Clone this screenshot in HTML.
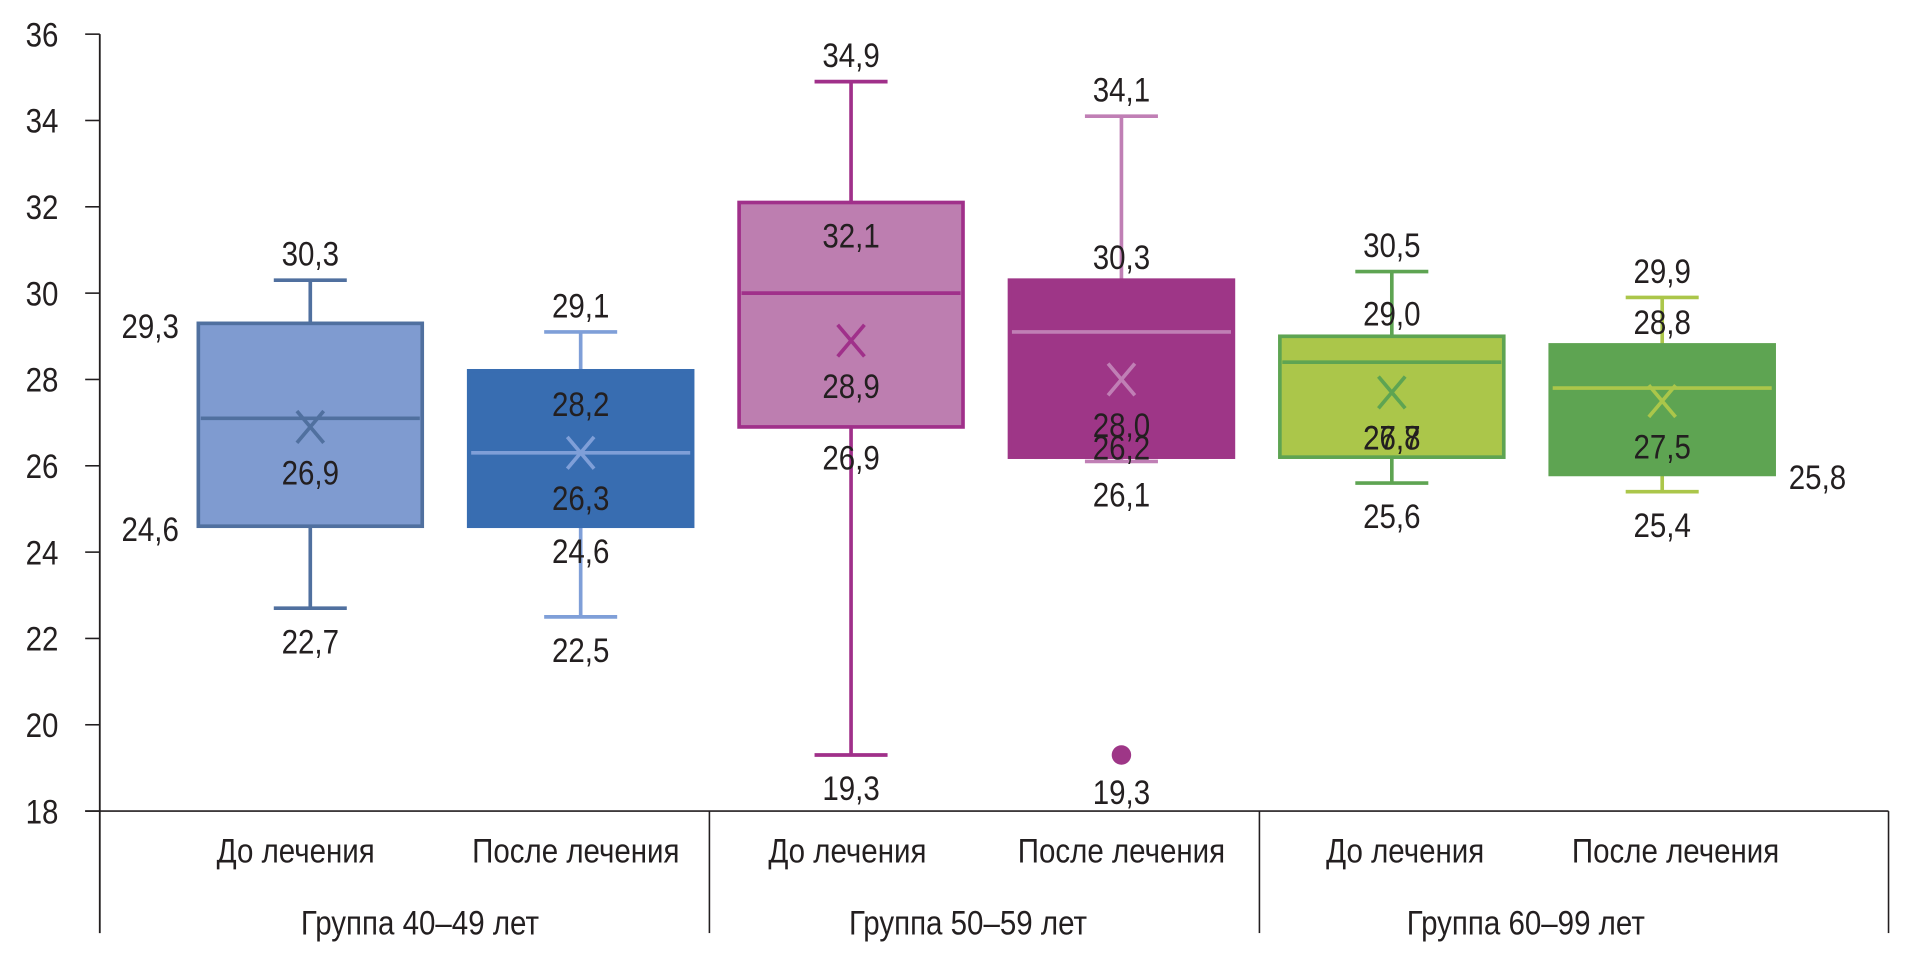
<!DOCTYPE html>
<html><head><meta charset="utf-8">
<style>
html,body{margin:0;padding:0;background:#fff;}
svg{display:block;}
text{font-family:"Liberation Sans Narrow","Liberation Sans",sans-serif;fill:#231f20;}
</style></head>
<body>
<svg id="chart" width="1908" height="966" viewBox="0 0 1568 792" preserveAspectRatio="none" xmlns="http://www.w3.org/2000/svg"></svg>
<script>
const yTicks = [18,20,22,24,26,28,30,32,34,36];
const categories = ["До лечения","После лечения","До лечения","После лечения","До лечения","После лечения"];
const groups = ["Группа 40–49 лет","Группа 50–59 лет","Группа 60–99 лет"];
const mins = [22.7,22.5,19.3,26.1,25.6,25.4];
const q1s = [24.6,24.6,26.9,26.2,26.2,25.8];
const medians = [27.1,26.3,30.0,29.1,28.4,27.8];
const means = [26.9,26.3,28.9,28.0,27.7,27.5];
const q3s = [29.3,28.2,32.1,30.3,29.0,28.8];
const maxs = [30.3,29.1,34.9,34.1,30.5,29.9];
const outliers = [[],[],[],[19.3],[],[]];
const minLabels = ["22,7","22,5","19,3","26,1","25,6","25,4"];
const q1Labels = ["24,6","24,6","26,9","26,2","26,8","25,8"];
const meanLabels = ["26,9","26,3","28,9","28,0","27,7","27,5"];
const q3Labels = ["29,3","28,2","32,1","30,3","29,0","28,8"];
const maxLabels = ["30,3","29,1","34,9","34,1","30,5","29,9"];
const outlierLabels = [[],[],[],["19,3"],[],[]];

const fills = ["#7f9bd0","#386db1","#bd7eb0","#9e3687","#abc64a","#5ea452"];
const strokes = ["#50709f","#386db1","#a0308a","#9e3687","#5ea452","#5ea452"];
const inner = ["#50709f","#7f9fd8","#a0308a","#c07fb5","#5ea452","#abc64a"];
const q3Pos = ["left","in","in","above","above","above"];
const q1Pos = ["left","below","below","up","same","right"];

const svg = document.getElementById('chart');
const NS = "http://www.w3.org/2000/svg";
const X0 = 82, X1 = 1552, YB = 665, YT = 28;
function y(v){ return YB - (v - 18) * (YB - YT) / 18; }
function xc(i){ return 255 + i * ((1366 - 255) / 5); }
const BW = 184, CAP = 30;

function el(tag, attrs, parent){
  const e = document.createElementNS(NS, tag);
  for (const k in attrs) e.setAttribute(k, attrs[k]);
  (parent || svg).appendChild(e);
  return e;
}
function txt(s, x, yy, anchor, parent){
  const t = el('text', {x:0, y:0, 'font-size':25, 'text-anchor':anchor||'middle',
    transform:`translate(${x},${yy}) scale(0.97,1.12)`}, parent);
  t.textContent = s;
  return t;
}

const axis = el('g', {});


el('line', {x1:X0, y1:YT, x2:X0, y2:765, stroke:'#231f20', 'stroke-width':1.5}, axis);
yTicks.forEach(v => {
  el('line', {x1:70, y1:y(v), x2:X0, y2:y(v), stroke:'#231f20', 'stroke-width':1.3}, axis);
  const t = txt(String(v), 48, y(v) + 10, 'end', axis);
  
  
});
const xa = el('line', {x1:70, y1:YB, x2:X1, y2:YB, stroke:'#231f20', 'stroke-width':1.3});


[583, 1035, X1].forEach(xx => {
  const s = el('line', {x1:xx, y1:YB, x2:xx, y2:765, stroke:'#231f20', 'stroke-width':1.3});
  
  
});
const catShift = [-12, -4, -3, 0, 11, 11];
categories.forEach((c, i) => {
  const t = txt(c, xc(i) + catShift[i], 707);
  
  
});
const groupShift = [-21, -15, -1];
groups.forEach((g, i) => {
  const t = txt(g, (xc(2*i) + xc(2*i+1)) / 2 + groupShift[i], 766);
  
  
});

categories.forEach((c, i) => {
  const g = el('g', {});
  
  
  const cx = xc(i), L = cx - BW/2;
  el('line', {x1:cx, y1:y(maxs[i]), x2:cx, y2:y(q3s[i]), stroke:inner[i], 'stroke-width':3}, g);
  el('line', {x1:cx, y1:y(q1s[i]), x2:cx, y2:y(mins[i]), stroke:inner[i], 'stroke-width':3}, g);
  el('line', {x1:cx-CAP, y1:y(maxs[i]), x2:cx+CAP, y2:y(maxs[i]), stroke:inner[i], 'stroke-width':3}, g);
  el('line', {x1:cx-CAP, y1:y(mins[i]), x2:cx+CAP, y2:y(mins[i]), stroke:inner[i], 'stroke-width':3}, g);
  el('rect', {x:L, y:y(q3s[i]), width:BW, height:y(q1s[i]) - y(q3s[i]), fill:fills[i], stroke:strokes[i], 'stroke-width':3}, g);
  el('line', {x1:L+2, y1:y(medians[i]), x2:L+BW-2, y2:y(medians[i]), stroke:inner[i], 'stroke-width':3}, g);
  const my = y(means[i]);
  el('path', {d:`M${cx-11} ${my-13} L${cx+11} ${my+13} M${cx+11} ${my-13} L${cx-11} ${my+13}`, stroke:inner[i], 'stroke-width':3, fill:'none'}, g);
  outliers[i].forEach((o, k) => {
    el('circle', {cx:cx, cy:y(o), r:8, fill:'#9e3687'}, g);
    txt(outlierLabels[i][k], cx, y(o) + 40, 'middle', g);
  });
  txt(maxLabels[i], cx, y(maxs[i]) - 12, 'middle', g);
  txt(minLabels[i], cx, y(mins[i]) + 37, 'middle', g);
  txt(meanLabels[i], cx, my + 47, 'middle', g);
  if (q3Pos[i] === 'left') txt(q3Labels[i], 147, y(q3s[i]) + 12, 'end', g);
  else if (q3Pos[i] === 'in') txt(q3Labels[i], cx, y(q3s[i]) + 37, 'middle', g);
  else txt(q3Labels[i], cx, y(q3s[i]) - 9, 'middle', g);
  if (q1Pos[i] === 'left') txt(q1Labels[i], 147, y(q1s[i]) + 12, 'end', g);
  else if (q1Pos[i] === 'below') txt(q1Labels[i], cx, y(q1s[i]) + 30 + (i===2?5:0), 'middle', g);
  else if (q1Pos[i] === 'up') txt(q1Labels[i], cx, y(q1s[i]) + 2, 'middle', g);
  else if (q1Pos[i] === 'same') txt(q1Labels[i], cx, my + 47, 'middle', g);
  else txt(q1Labels[i], L + BW + 12, y(q1s[i]) + 12, 'start', g);
});
</script>
</body></html>
